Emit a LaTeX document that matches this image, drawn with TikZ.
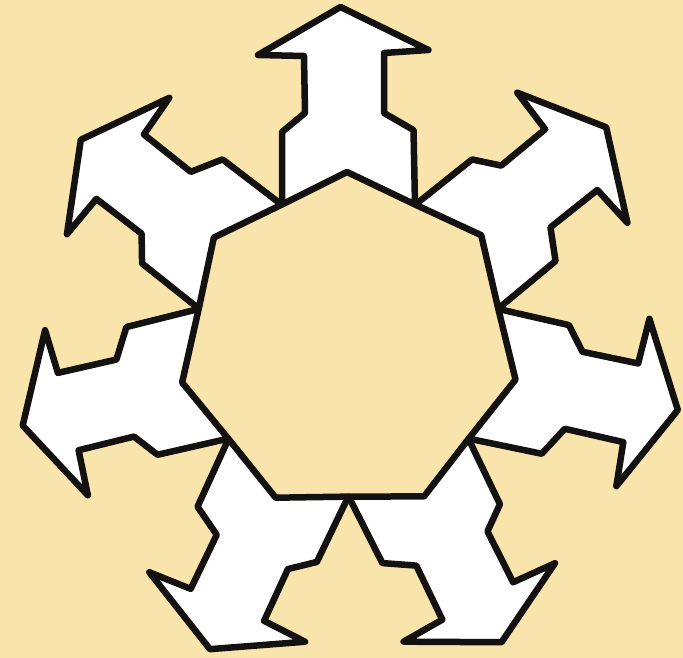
\documentclass[tikz,border=0pt]{standalone}
\definecolor{paper}{RGB}{249,229,172}
\definecolor{ink}{RGB}{20,18,16}
\tikzset{
  tile/.style={draw=ink, fill=white, line width=6.5pt, line join=round},
}
\begin{document}
\begin{tikzpicture}[x=1pt,y=1pt]
  \useasboundingbox (0,0) rectangle (683,658);
  \fill[paper] (0,0) rectangle (683,658);
  \coordinate (C) at (348.5,315);
  \foreach \k in {0,...,6}{
    \begin{scope}[shift={(C)}, rotate=\k*360/7]
      \draw[tile] (-8,336) -- (80,293) -- (35.5,290) -- (35.5,230)
        -- (65,213) -- (66.5,138.5) -- (-1.5,171) -- (-66.5,138.5)
        -- (-66.5,211) -- (-43.5,230) -- (-44.5,287) -- (-90.5,288) -- cycle;
    \end{scope}
  }
\end{tikzpicture}
\end{document}
